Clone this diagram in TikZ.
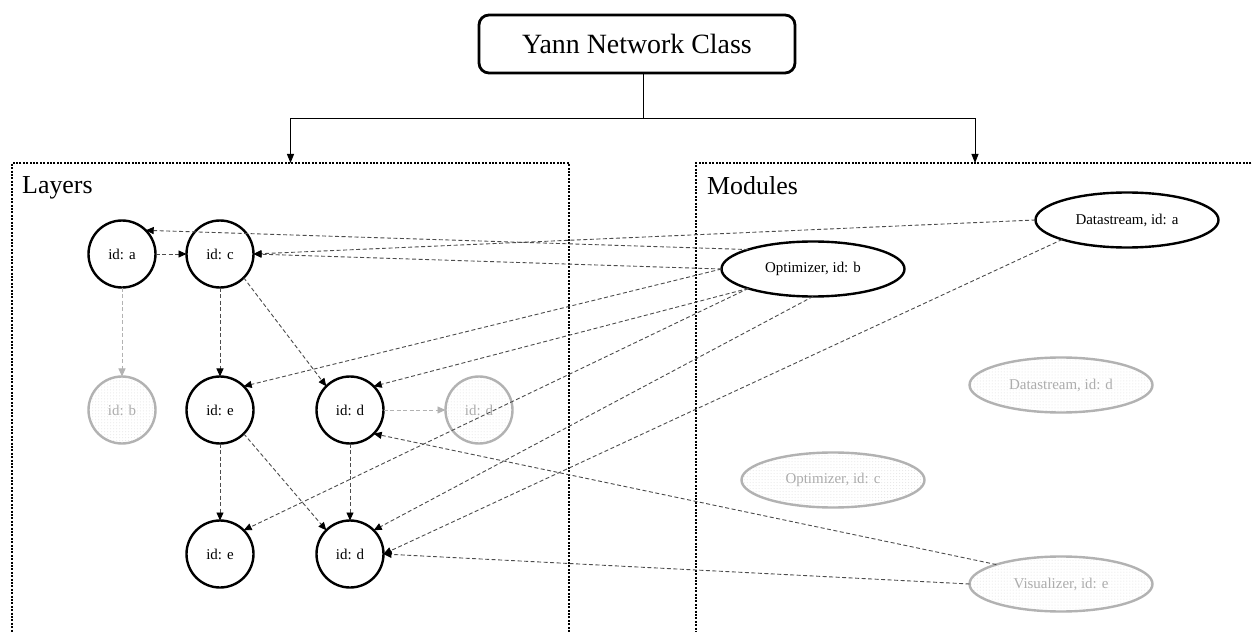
\documentclass[tikz,border=0pt]{standalone}
\usepackage{fontspec}
\setmainfont{Liberation Serif}
\usetikzlibrary{arrows.meta,shapes.geometric,patterns}
\begin{document}
\begin{tikzpicture}[x=1bp,y=-1bp,
  lay/.style={circle,draw=black,line width=2.4bp,minimum size=67bp,inner sep=0pt,outer sep=0pt,font=\fontsize{15}{18}\selectfont},
  laygray/.style={lay,draw=gray!60,pattern=dots,pattern color=gray!20,text=gray!65},
  mod/.style={ellipse,draw=black,line width=2.4bp,minimum width=183bp,minimum height=55bp,inner sep=0pt,outer sep=0pt,font=\fontsize{15}{18}\selectfont},
  modgray/.style={mod,draw=gray!60,pattern=dots,pattern color=gray!20,text=gray!65},
  conn/.style={draw=black!70,line width=0.9bp,dash pattern=on 4bp off 2.5bp,-{Triangle[length=8bp,width=7bp,color=black]}},
  conngray/.style={draw=gray!60,line width=0.9bp,dash pattern=on 4bp off 2.5bp,-{Triangle[length=8bp,width=7bp,color=gray!60]}},
  dotbox/.style={draw=black,line width=2.2bp,dash pattern=on 2bp off 1.4bp,inner sep=0pt,outer sep=0pt,anchor=north west},
  toparrow/.style={draw=black,line width=0.9bp,-{Triangle[length=9bp,width=7bp]}},
  titlebox/.style={draw=black,line width=2.8bp,rounded corners=10bp,minimum width=316bp,minimum height=58bp,inner sep=0pt,font=\fontsize{28}{32}\selectfont},
  boxlabel/.style={anchor=base west,inner sep=0pt,font=\fontsize{26}{30}\selectfont}
]
\useasboundingbox (0,0) rectangle (1252,632);
\fill[white] (0,0) rectangle (1252,632);

% containers
\node[dotbox,minimum width=557bp,minimum height=490bp] (layers) at (12,163) {};
\node[dotbox,minimum width=558bp,minimum height=490bp] (modules) at (696,163) {};
\node[boxlabel] (laylbl) at (22,194) {Layers};
\node[boxlabel] (modlbl) at (707,195) {Modules};

% title
\node[titlebox] (title) at (637,44) {Yann Network Class};
\coordinate (split) at (643,118);
\draw[toparrow] (title.south -| split) -- (split) -| (layers.north);
\draw[toparrow] (split) -| (modules.north);

% layers
\node[lay] (a) at (122,254) {id: a};
\node[lay] (c) at (220,254) {id: c};
\node[laygray] (b) at (122,410) {id: b};
\node[lay] (e1) at (220,410) {id: e};
\node[lay] (d1) at (350,410) {id: d};
\node[laygray] (dg) at (479,410) {id: d};
\node[lay] (e2) at (220,554) {id: e};
\node[lay] (d2) at (350,554) {id: d};

% modules
\node[mod] (dsa) at (1127,220) {Datastream, id: a};
\node[mod] (optb) at (813,269) {Optimizer, id: b};
\node[modgray] (dsd) at (1061,385) {Datastream, id: d};
\node[modgray] (optc) at (833,480) {Optimizer, id: c};
\node[modgray] (vise) at (1061,584) {Visualizer, id: e};

% layer connectors
\draw[conn] (a) -- (c);
\draw[conngray] (a) -- (b);
\draw[conn] (c) -- (e1);
\draw[conn] (c.south east) -- (d1.north west);
\draw[conn] (e1) -- (e2);
\draw[conn] (e1.south east) -- (d2.north west);
\draw[conn] (d1) -- (d2);
\draw[conngray] (d1) -- (dg);

% module connectors
\draw[conn] (dsa.west) -- (c.east);
\draw[conn] (optb.north west) -- (a.north east);
\draw[conn] (optb.west) -- (c.east);
\draw[conn] (optb.west) -- (e1.north east);
\draw[conn] (optb.south west) -- (d1.north east);
\draw[conn] (optb.south west) -- (e2.north east);
\draw[conn] (optb.south) -- (d2.north east);
\draw[conn] (dsa.south west) -- (d2.east);
\draw[conn] (vise.north west) -- (d1.south east);
\draw[conn] (vise.west) -- (d2.east);
\end{tikzpicture}
\end{document}
